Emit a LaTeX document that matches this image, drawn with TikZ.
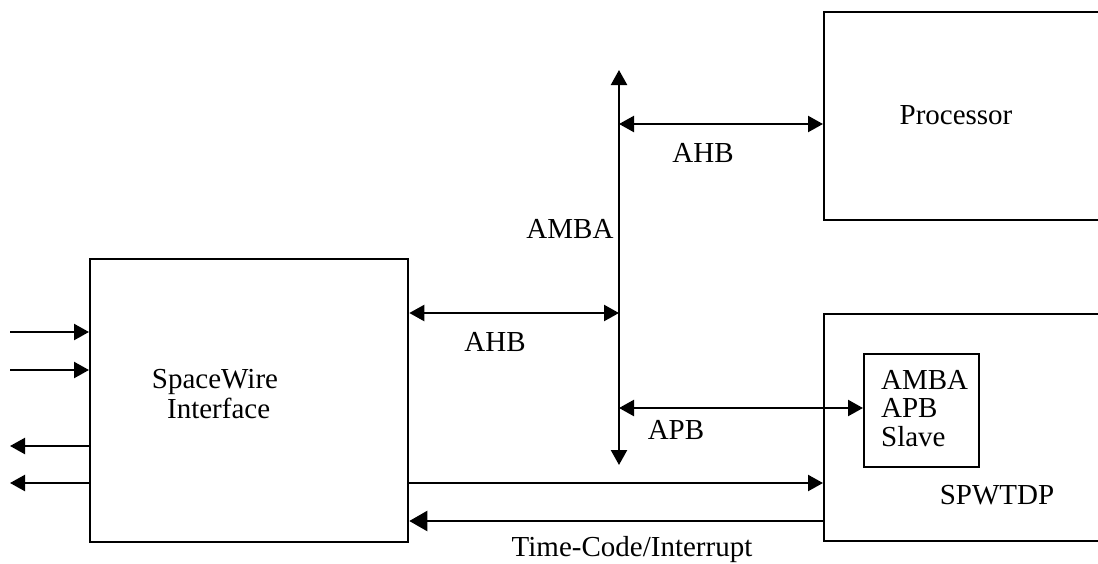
\documentclass[tikz,border=0pt]{standalone}
\usepackage{fontspec}
\setmainfont{Liberation Serif}
\usetikzlibrary{arrows.meta}
\begin{document}
\begin{tikzpicture}[x=1pt,y=-1pt,
  line width=2.3pt,
  >={Triangle[length=15pt,width=16pt]},
  bigtip/.style={-{Triangle[length=18pt,width=20pt]}},
  box/.style={draw,rectangle,anchor=north west,inner sep=0pt},
  lbl/.style={font=\fontsize{29}{30}\selectfont,inner sep=0pt}]
\useasboundingbox (0,0) rectangle (1098,563);
\clip (0,0) rectangle (1098,563);
% boxes
\node[box,minimum width=300pt,minimum height=208pt] (proc) at (823,11) {};
\node[box,minimum width=300pt,minimum height=227pt] (tdp) at (823,313) {};
\node[box,minimum width=318pt,minimum height=283pt] (spw) at (89,258) {};
\node[box,minimum width=115pt,minimum height=113pt] (apb) at (863,353) {};
% texts
\node[lbl] (ptxt) at (956,115) {Processor};
\node[lbl] (ttxt) at (997,495) {SPWTDP};
\node[lbl,align=left,anchor=north west,font=\fontsize{29}{28.5}\selectfont] (atxt) at (880,369) {AMBA\\APB\\Slave};
\node[lbl,align=center] (stxt) at (215,394) {SpaceWire\\\ Interface};
\node[lbl] (amba) at (570,229) {AMBA};
\node[lbl] (ahb1) at (703,153) {AHB};
\node[lbl] (ahb2) at (495,342) {AHB};
\node[lbl] (apbl) at (676,430) {APB};
\node[lbl] (tc) at (632,550) {Time-Code/Interrupt};
% bus
\coordinate (bt) at (619,70);
\coordinate (bb) at (619,465);
\draw[<->] (bt) -- (bb);
% bus connections
\draw[<->] (619,124) -- (proc.west |- 0,124);
\draw[<->] (spw.east |- 0,313) -- (619,313);
\draw[<->] (619,408) -- (apb.west |- 0,408);
\draw[->] (spw.east |- 0,483) -- (tdp.west |- 0,483);
\draw[bigtip] (tdp.west |- 0,521) -- (spw.east |- 0,521);
% external lines
\coordinate (e1) at (10,332);
\coordinate (e2) at (10,370);
\coordinate (e3) at (10,446);
\coordinate (e4) at (10,483);
\draw[->] (e1) -- (spw.west |- e1);
\draw[->] (e2) -- (spw.west |- e2);
\draw[->] (spw.west |- e3) -- (e3);
\draw[->] (spw.west |- e4) -- (e4);
\end{tikzpicture}
\end{document}
